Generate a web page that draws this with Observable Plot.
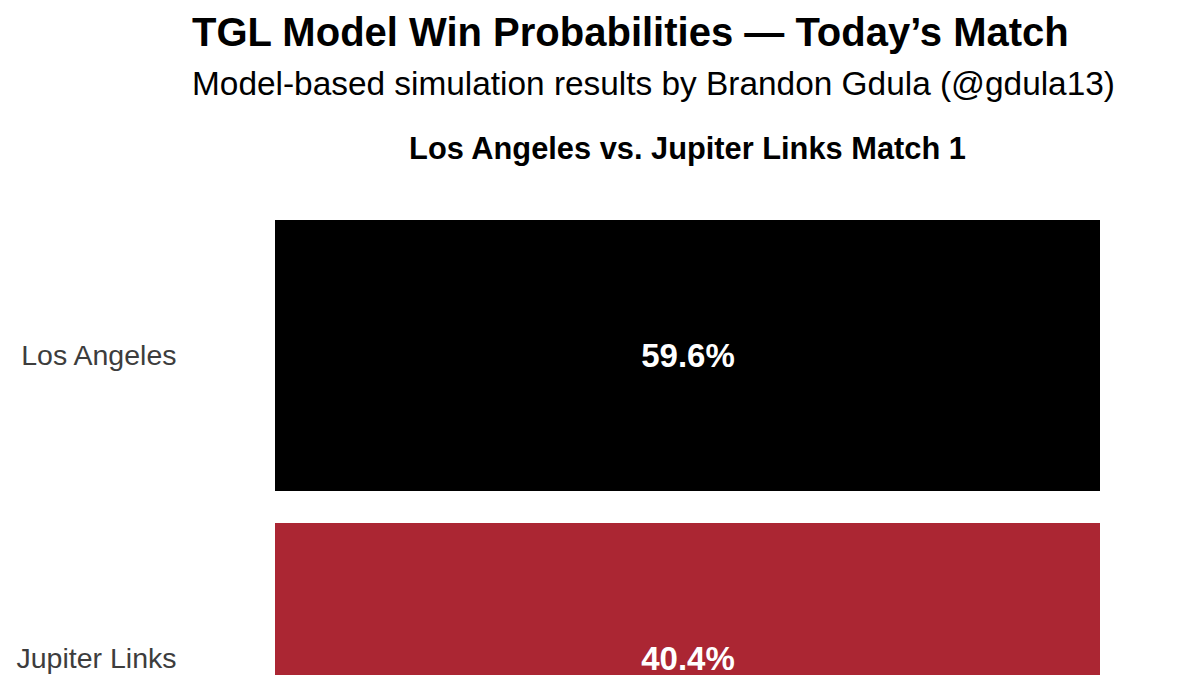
<!DOCTYPE html>
<html>
<head>
<meta charset="utf-8">
<script src="https://cdn.jsdelivr.net/npm/d3@7"></script>
<script src="https://cdn.jsdelivr.net/npm/@observablehq/plot@0.6"></script>
<style>
  html, body { margin: 0; padding: 0; background: #fff; width: 1200px; height: 675px; overflow: hidden; }
  body { font-family: "Liberation Sans", Arial, Helvetica, sans-serif; }
  #header { position: relative; width: 1200px; height: 190px; }
  #header div { position: absolute; white-space: nowrap; color: #000; }
  #title { left: 192px; top: 12px; font-size: 40px; line-height: 40px; font-weight: bold; }
  #subtitle { left: 192px; top: 67px; font-size: 33.4px; line-height: 33px; }
  #facet { left: 275px; width: 825px; text-align: center; top: 133px; font-size: 30.8px; line-height: 31px; font-weight: bold; color: #1a1a1a; }
</style>
</head>
<body>
<div id="header">
  <div id="title">TGL Model Win Probabilities — Today’s Match</div>
  <div id="subtitle">Model-based simulation results by Brandon Gdula (@gdula13)</div>
  <div id="facet">Los Angeles vs. Jupiter Links Match 1</div>
</div>
<div id="chart"></div>
<script>
const teams = ["Los Angeles", "Jupiter Links"];
const winProb = [59.6, 40.4];
const match = "Los Angeles vs. Jupiter Links Match 1";
const teamColors = ["#000000", "#AB2633"];

const data = teams.map((t, i) => ({team: t, prob: winProb[i], match}));

const chart = Plot.plot({
  width: 1200,
  height: 630,
  marginTop: 30,
  marginBottom: 26,
  marginLeft: 275,
  marginRight: 100,
  style: {fontFamily: "'Liberation Sans', Arial, Helvetica, sans-serif", background: "#fff"},
  x: {axis: null, domain: [match], padding: 0},
  y: {domain: teams, padding: 0.106, paddingOuter: 0, label: null},
  color: {domain: teams, range: teamColors},
  marks: [
    Plot.cell(data, {x: "match", y: "team", fill: "team"}),
    Plot.text(data, {x: "match", y: "team", text: d => d.prob.toFixed(1) + "%", fill: "#fff", fontSize: 33, fontWeight: "bold"}),
    Plot.axisY({tickSize: 0, tickPadding: 99, fontSize: 28.5, fill: "#3d3d3d", label: null})
  ]
});
document.getElementById("chart").appendChild(chart);
</script>
</body>
</html>
